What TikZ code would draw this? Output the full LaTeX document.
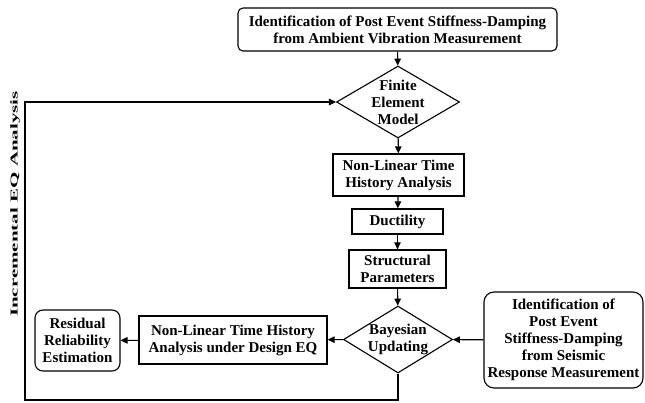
\documentclass[tikz,border=0pt]{standalone}
\usepackage{fontspec}
\setmainfont{Liberation Serif}
\usetikzlibrary{shapes.geometric,arrows.meta}
\begin{document}
\begin{tikzpicture}[x=1pt,y=-1pt,
  line width=1.1pt,
  >={Triangle[length=7pt,width=6.5pt]},
  txt/.style={font=\fontsize{15}{17}\selectfont\bfseries, align=center},
  sqbox/.style={draw, rectangle, txt, inner sep=0pt, line width=1.3pt},
  rbox/.style={draw, rectangle, txt, inner sep=0pt, line width=1.1pt, rounded corners=#1},
  dia/.style={draw, diamond, inner sep=0pt, line width=1.1pt},
  lbl/.style={txt}
]
\useasboundingbox (0,0) rectangle (645,402);
\node[rbox=5pt, minimum width=319pt, minimum height=43pt] (top) at (397.5,29.5)
  {Identification of Post Event Stiffness-Damping\\from Ambient Vibration Measurement};
\node[dia, minimum width=123pt, minimum height=72pt,
  label={[lbl]center:{Finite\\Element\\Model}}] (fem) at (398,102) {};
\node[sqbox, minimum width=131pt, minimum height=42pt] (nl) at (398.5,175)
  {Non-Linear Time\\History Analysis};
\node[sqbox, minimum width=91pt, minimum height=25pt] (duct) at (397.5,221.5) {Ductility};
\node[sqbox, minimum width=97pt, minimum height=38pt] (str) at (397.5,269)
  {Structural\\Parameters};
\node[dia, minimum width=109pt, minimum height=67pt,
  label={[lbl]center:{Bayesian\\Updating}}] (bay) at (398,339.5) {};
\node[sqbox, minimum width=188pt, minimum height=48pt] (nld) at (233,340)
  {Non-Linear Time History\\Analysis under Design EQ};
\node[rbox=8pt, minimum width=85pt, minimum height=61pt] (res) at (77.5,340.5)
  {Residual\\Reliability\\Estimation};
\node[rbox=10pt, minimum width=159pt, minimum height=96pt] (seis) at (563.5,340)
  {Identification of\\Post Event\\Stiffness-Damping\\from Seismic\\Response Measurement};
\node[font=\fontsize{10.5}{12}\selectfont\bfseries, rotate=90, inner sep=0pt] (inc) at (15,204)
  {\scalebox{2}[1]{Incremental EQ Analysis}};
\coordinate (c1) at (398,400);
\coordinate (c2) at (25,400);
\coordinate (c3) at (25,102);
\draw[->] (top) -- (fem);
\draw[->] (fem) -- (nl);
\draw[->] (nl) -- (duct);
\draw[->] (duct) -- (str);
\draw[->] (str) -- (bay);
\draw[->] (bay) -- (nld);
\draw[->] (nld) -- (res);
\draw[->] (seis) -- (bay);
\draw[->] (bay.south) -- (c1) -- (c2) -- (c3) -- (fem.west);
\end{tikzpicture}
\end{document}
